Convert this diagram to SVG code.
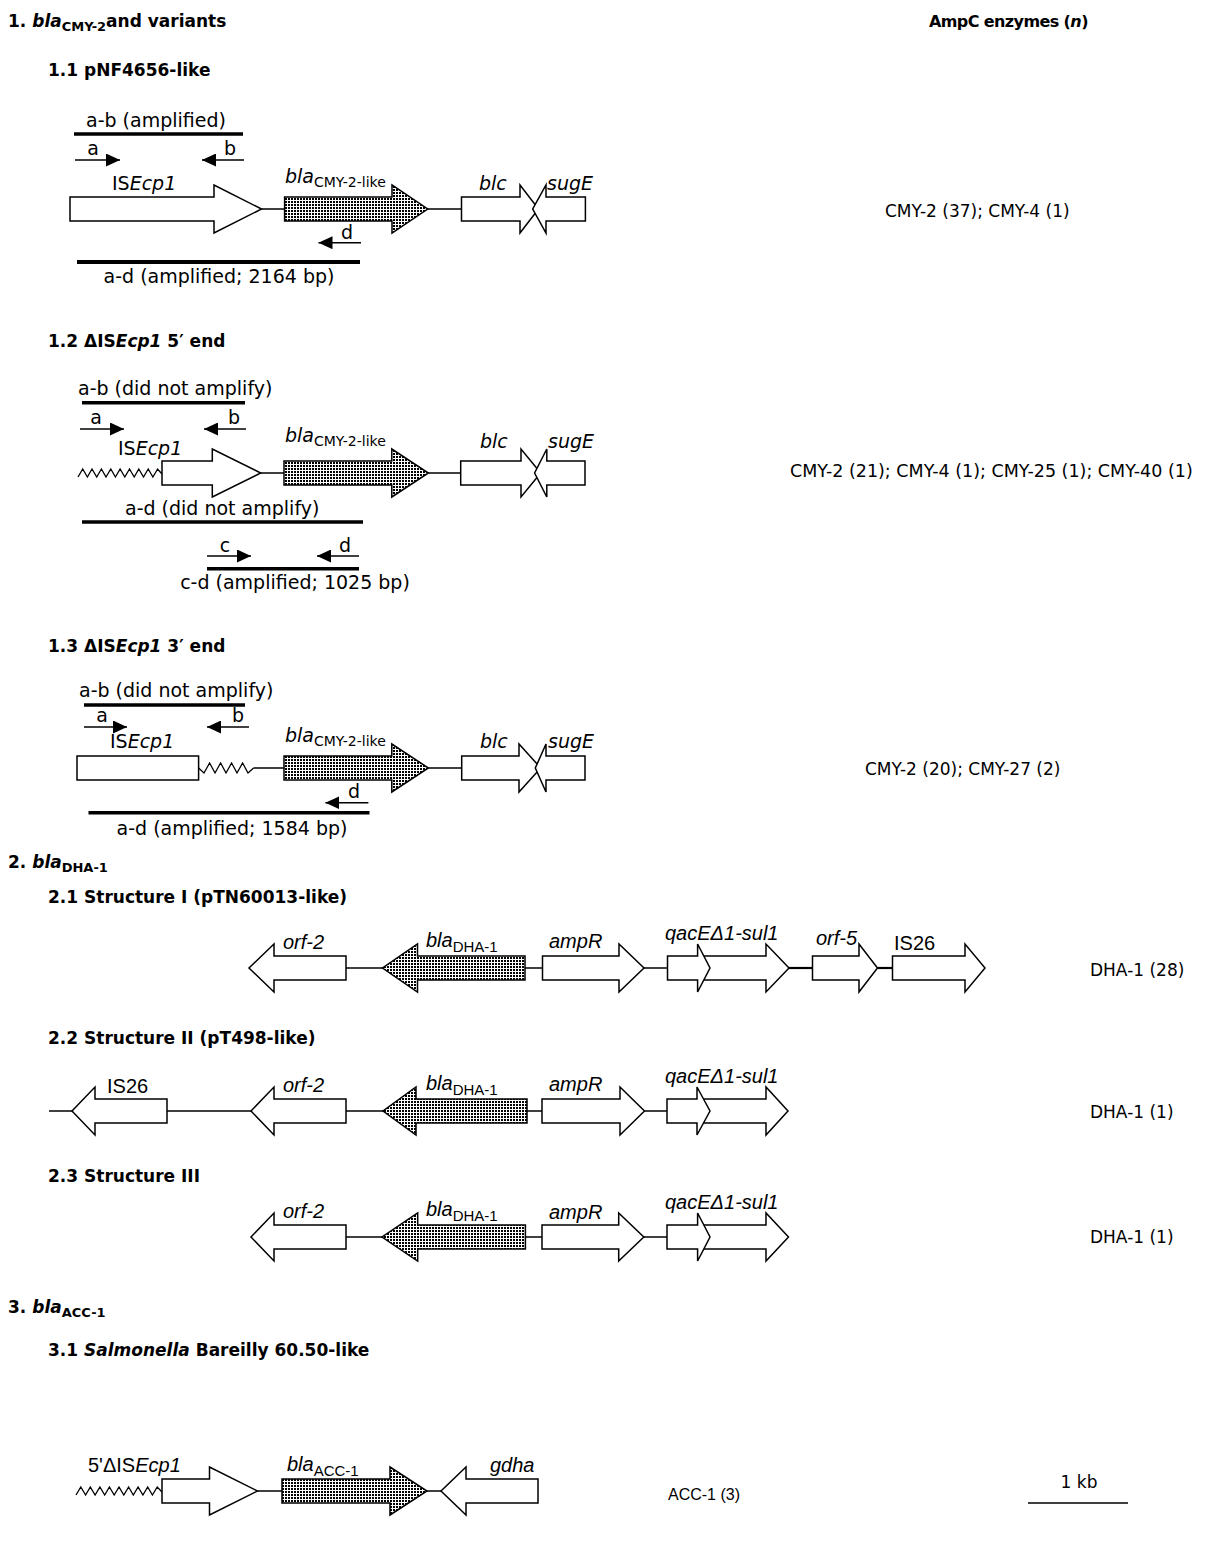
<svg xmlns="http://www.w3.org/2000/svg" width="1207" height="1554" viewBox="0 0 1207 1554">
<defs>
<pattern id="hatch" width="3" height="3" patternUnits="userSpaceOnUse">
<rect width="3" height="3" fill="#fff"/>
<rect width="2" height="2" fill="#000"/>
</pattern>
<marker id="pr" viewBox="0 0 14 13" refX="14" refY="6.5" markerWidth="14" markerHeight="13" markerUnits="userSpaceOnUse" orient="auto">
<path d="M0,0 L14,6.5 L0,13 Z" fill="#000"/>
</marker>
<style>
.t1{font-family:"DejaVu Sans",sans-serif;font-size:19px;fill:#000}
.tb{font-family:"DejaVu Sans",sans-serif;font-size:17px;font-weight:bold;fill:#000}
.tr{font-family:"DejaVu Sans",sans-serif;font-size:17px;fill:#000}
.tl{font-family:"Liberation Sans",sans-serif;font-size:20px;fill:#000}
.i{font-style:italic}
.s1{font-size:14px}
.s2{font-size:15px}
.gene{fill:#fff;stroke:#000;stroke-width:1.5;stroke-linejoin:miter}
.hat{fill:url(#hatch);stroke:#000;stroke-width:1.5}
.ln{stroke:#000;stroke-width:1.5;fill:none}
.ln2{stroke:#000;stroke-width:2.2;fill:none}
.amp{stroke:#000;stroke-width:3.5}
.prm{stroke:#000;stroke-width:1.5;marker-end:url(#pr)}
.zz{fill:none;stroke:#000;stroke-width:1.3}
</style>
</defs>
<rect width="1207" height="1554" fill="#fff"/>

<!-- headings -->
<g id="headings">
<text x="8" y="27" class="tb">1. <tspan class="i">bla</tspan><tspan font-size="13" dy="4">CMY-2</tspan><tspan dy="-4">and variants</tspan></text>
<text x="929" y="27" class="tb" style="font-size:16px;letter-spacing:-0.6px">AmpC enzymes (<tspan class="i">n</tspan>)</text>
<text x="48" y="76" class="tb">1.1 pNF4656-like</text>
<text x="48" y="347" class="tb">1.2 ΔIS<tspan class="i">Ecp1</tspan> 5′ end</text>
<text x="48" y="652" class="tb">1.3 ΔIS<tspan class="i">Ecp1</tspan> 3′ end</text>
<text x="8" y="868" class="tb">2. <tspan class="i">bla</tspan><tspan font-size="13" dy="4">DHA-1</tspan></text>
<text x="48" y="903" class="tb">2.1 Structure I (pTN60013-like)</text>
<text x="48" y="1044" class="tb">2.2 Structure II (pT498-like)</text>
<text x="48" y="1182" class="tb">2.3 Structure III</text>
<text x="8" y="1313" class="tb">3. <tspan class="i">bla</tspan><tspan font-size="13" dy="4">ACC-1</tspan></text>
<text x="48" y="1356" class="tb">3.1 <tspan class="i">Salmonella</tspan> Bareilly 60.50-like</text>
</g>

<!-- right column -->
<g id="enzymes">
<text x="885" y="217" class="tr">CMY-2 (37); CMY-4 (1)</text>
<text x="790" y="477" class="tr" style="font-size:17.5px">CMY-2 (21); CMY-4 (1); CMY-25 (1); CMY-40 (1)</text>
<text x="865" y="775" class="tr">CMY-2 (20); CMY-27 (2)</text>
<text x="1090" y="976" class="tr">DHA-1 (28)</text>
<text x="1090" y="1118" class="tr">DHA-1 (1)</text>
<text x="1090" y="1243" class="tr">DHA-1 (1)</text>
<text x="668" y="1500" class="tl" style="font-size:16px">ACC-1 (3)</text>
</g>

<g id="scalebar">
<text x="1079" y="1488" class="tr" text-anchor="middle">1 kb</text>
<line x1="1028" y1="1503" x2="1128" y2="1503" class="ln"/>
</g>

<!-- connectors -->
<g id="connectors">
<line x1="261.5" y1="209" x2="284.6" y2="209" class="ln"/>
<line x1="427.7" y1="209" x2="461.5" y2="209" class="ln"/>
<line x1="260.7" y1="473" x2="284" y2="473" class="ln"/>
<line x1="428.4" y1="473" x2="460.7" y2="473" class="ln"/>
<line x1="253.6" y1="768" x2="284" y2="768" class="ln"/>
<line x1="428.4" y1="768" x2="461.7" y2="768" class="ln"/>
<line x1="346" y1="968" x2="382.5" y2="968" class="ln"/>
<line x1="525" y1="968" x2="542.5" y2="968" class="ln"/>
<line x1="644" y1="968" x2="667.5" y2="968" class="ln"/>
<line x1="789" y1="968" x2="812.5" y2="968" class="ln2"/>
<line x1="877.5" y1="968" x2="892.5" y2="968" class="ln2"/>
<line x1="49" y1="1111" x2="72" y2="1111" class="ln"/>
<line x1="167" y1="1111" x2="251" y2="1111" class="ln"/>
<line x1="346" y1="1111" x2="383" y2="1111" class="ln"/>
<line x1="527" y1="1111" x2="542" y2="1111" class="ln"/>
<line x1="644.5" y1="1111" x2="667" y2="1111" class="ln"/>
<line x1="346" y1="1237" x2="382" y2="1237" class="ln"/>
<line x1="525.4" y1="1237" x2="542" y2="1237" class="ln"/>
<line x1="643.8" y1="1237" x2="667" y2="1237" class="ln"/>
<line x1="257.5" y1="1491" x2="282" y2="1491" class="ln"/>
<line x1="427" y1="1491" x2="441" y2="1491" class="ln"/>
</g>

<!-- 1.1 -->
<g id="s11-primers">
<text x="86" y="127" class="t1">a-b (amplified)</text>
<line x1="74" y1="134" x2="243" y2="134" class="amp"/>
<line x1="75" y1="160" x2="120" y2="160" class="prm"/>
<text x="93" y="155" class="t1" text-anchor="middle">a</text>
<line x1="244" y1="160" x2="202" y2="160" class="prm"/>
<text x="230" y="155" class="t1" text-anchor="middle">b</text>
<line x1="361" y1="242.7" x2="318.5" y2="242.7" class="prm"/>
<text x="347" y="239" class="t1" text-anchor="middle">d</text>
<line x1="77" y1="262" x2="360" y2="262" class="amp" style="stroke-width:4px"/>
<text x="219" y="283" class="t1" text-anchor="middle">a-d (amplified; 2164 bp)</text>
</g>
<g id="s11-ISEcp1">
<polygon points="70,197 214,197 214,185 261.5,209 214,233 214,221 70,221" class="gene"/>
<text x="112" y="190" class="t1">IS<tspan class="i">Ecp1</tspan></text>
</g>
<g id="s11-bla">
<polygon points="284.6,197 392,197 392,185 427.7,209 392,233 392,221 284.6,221" class="hat"/>
<text x="285" y="183" class="t1"><tspan class="i">bla</tspan><tspan class="s1" dy="4">CMY-2-like</tspan></text>
</g>
<g id="s11-blc">
<polygon points="461.5,197 520,197 520,185 538.5,209 520,233 520,221 461.5,221" class="gene"/>
<text x="479" y="190" class="t1 i">blc</text>
</g>
<g id="s11-sugE">
<polygon points="585.4,197 546,197 546,185 532.7,209 546,233 546,221 585.4,221" class="gene"/>
<text x="547" y="190" class="t1 i">sugE</text>
</g>

<!-- 1.2 -->
<g id="s12-primers">
<text x="78" y="395" class="t1">a-b (did not amplify)</text>
<line x1="82" y1="402.7" x2="245" y2="402.7" class="amp"/>
<line x1="80" y1="429" x2="124" y2="429" class="prm"/>
<text x="96" y="424" class="t1" text-anchor="middle">a</text>
<line x1="246" y1="429" x2="204" y2="429" class="prm"/>
<text x="234" y="424" class="t1" text-anchor="middle">b</text>
<text x="125" y="515" class="t1">a-d (did not amplify)</text>
<line x1="82" y1="522" x2="363" y2="522" class="amp"/>
<line x1="207" y1="556" x2="251" y2="556" class="prm"/>
<text x="225" y="552" class="t1" text-anchor="middle">c</text>
<line x1="359" y1="556" x2="317" y2="556" class="prm"/>
<text x="345" y="552" class="t1" text-anchor="middle">d</text>
<line x1="207" y1="568.7" x2="359" y2="568.7" class="amp"/>
<text x="295" y="589" class="t1" text-anchor="middle">c-d (amplified; 1025 bp)</text>
</g>
<g id="s12-ISEcp1">
<polyline points="78,477 82.7,469 87.4,477 92,469 96.7,477 101.4,469 106,477 110.8,469 115.4,477 120.1,469 124.8,477 129.5,469 134.2,477 138.8,469 143.5,477 148.2,469 152.9,477 157.6,469 162,474" class="zz"/>
<polygon points="162,461 212.3,461 212.3,449 260.7,473 212.3,497 212.3,485 162,485" class="gene"/>
<text x="118" y="455" class="t1">IS<tspan class="i">Ecp1</tspan></text>
</g>
<g id="s12-bla">
<polygon points="284,461 391.8,461 391.8,449 428.4,473 391.8,497 391.8,485 284,485" class="hat"/>
<text x="285" y="442" class="t1"><tspan class="i">bla</tspan><tspan class="s1" dy="4">CMY-2-like</tspan></text>
</g>
<g id="s12-blc">
<polygon points="460.7,461 521,461 521,449 540.7,473 521,497 521,485 460.7,485" class="gene"/>
<text x="480" y="448" class="t1 i">blc</text>
</g>
<g id="s12-sugE">
<polygon points="585,461 546.8,461 546.8,449 534.6,473 546.8,497 546.8,485 585,485" class="gene"/>
<text x="548" y="448" class="t1 i">sugE</text>
</g>

<!-- 1.3 -->
<g id="s13-primers">
<text x="79" y="697" class="t1">a-b (did not amplify)</text>
<line x1="84" y1="705" x2="245" y2="705" class="amp"/>
<line x1="84" y1="727" x2="127" y2="727" class="prm"/>
<text x="102" y="722" class="t1" text-anchor="middle">a</text>
<line x1="249" y1="727" x2="207" y2="727" class="prm"/>
<text x="238" y="722" class="t1" text-anchor="middle">b</text>
<line x1="368.4" y1="802.7" x2="325.4" y2="802.7" class="prm"/>
<text x="354" y="798" class="t1" text-anchor="middle">d</text>
<line x1="88.5" y1="812.7" x2="369.5" y2="812.7" class="amp"/>
<text x="232" y="835" class="t1" text-anchor="middle">a-d (amplified; 1584 bp)</text>
</g>
<g id="s13-ISEcp1">
<rect x="77" y="756" width="121.6" height="24" class="gene"/>
<polyline points="198.6,768 204,773 209.6,763 215,773 220.6,763 226,773 231.6,763 237,773 242.6,763 248,773 253.6,768" class="zz"/>
<text x="110" y="748" class="t1">IS<tspan class="i">Ecp1</tspan></text>
</g>
<g id="s13-bla">
<polygon points="284,756 391.8,756 391.8,744 428.4,768 391.8,792 391.8,780 284,780" class="hat"/>
<text x="285" y="742" class="t1"><tspan class="i">bla</tspan><tspan class="s1" dy="4">CMY-2-like</tspan></text>
</g>
<g id="s13-blc">
<polygon points="461.7,756 519,756 519,744 540.7,768 519,792 519,780 461.7,780" class="gene"/>
<text x="480" y="748" class="t1 i">blc</text>
</g>
<g id="s13-sugE">
<polygon points="585,756 546,756 546,744 535.3,768 546,792 546,780 585,780" class="gene"/>
<text x="548" y="748" class="t1 i">sugE</text>
</g>

<!-- 2.1 -->
<g id="s21-orf2">
<polygon points="346,956 274,956 274,944 249,968 274,992 274,980 346,980" class="gene"/>
<text x="283" y="949" class="tl i">orf-2</text>
</g>
<g id="s21-bla">
<polygon points="525,956 417.5,956 417.5,944 382.5,968 417.5,992 417.5,980 525,980" class="hat"/>
<text x="426" y="947" class="tl"><tspan class="i">bla</tspan><tspan class="s2" dy="5">DHA-1</tspan></text>
</g>
<g id="s21-ampR">
<polygon points="542.5,956 619,956 619,944 644,968 619,992 619,980 542.5,980" class="gene"/>
<text x="549" y="948" class="tl i">ampR</text>
</g>
<g id="s21-qacsul">
<polygon points="697.6,956 766,956 766,944 789,968 766,992 766,980 697.6,980" class="gene"/>
<polygon points="667.5,956 697.6,956 697.6,944 710,968 697.6,992 697.6,980 667.5,980" class="gene"/>
<text x="665" y="940" class="tl i">qacEΔ1-sul1</text>
</g>
<g id="s21-orf5">
<polygon points="812.5,956 859,956 859,944 877.5,968 859,992 859,980 812.5,980" class="gene"/>
<text x="816" y="945" class="tl i">orf-5</text>
</g>
<g id="s21-IS26">
<polygon points="892.5,956 965,956 965,944 985,968 965,992 965,980 892.5,980" class="gene"/>
<text x="894" y="950" class="tl">IS26</text>
</g>

<!-- 2.2 -->
<g id="s22-IS26">
<polygon points="167,1099 95,1099 95,1087 72,1111 95,1135 95,1123 167,1123" class="gene"/>
<text x="107" y="1093" class="tl">IS26</text>
</g>
<g id="s22-orf2">
<polygon points="346,1099 274,1099 274,1087 251,1111 274,1135 274,1123 346,1123" class="gene"/>
<text x="283" y="1092" class="tl i">orf-2</text>
</g>
<g id="s22-bla">
<polygon points="527,1099 416,1099 416,1087 383,1111 416,1135 416,1123 527,1123" class="hat"/>
<text x="426" y="1090" class="tl"><tspan class="i">bla</tspan><tspan class="s2" dy="5">DHA-1</tspan></text>
</g>
<g id="s22-ampR">
<polygon points="542,1099 620,1099 620,1087 644.5,1111 620,1135 620,1123 542,1123" class="gene"/>
<text x="549" y="1091" class="tl i">ampR</text>
</g>
<g id="s22-qacsul">
<polygon points="697,1099 766,1099 766,1087 788,1111 766,1135 766,1123 697,1123" class="gene"/>
<polygon points="667,1099 697,1099 697,1087 710,1111 697,1135 697,1123 667,1123" class="gene"/>
<text x="665" y="1083" class="tl i">qacEΔ1-sul1</text>
</g>

<!-- 2.3 -->
<g id="s23-orf2">
<polygon points="346,1225 274,1225 274,1213 251,1237 274,1261 274,1249 346,1249" class="gene"/>
<text x="283" y="1218" class="tl i">orf-2</text>
</g>
<g id="s23-bla">
<polygon points="525.4,1225 417.7,1225 417.7,1213 382,1237 417.7,1261 417.7,1249 525.4,1249" class="hat"/>
<text x="426" y="1216" class="tl"><tspan class="i">bla</tspan><tspan class="s2" dy="5">DHA-1</tspan></text>
</g>
<g id="s23-ampR">
<polygon points="542,1225 618.7,1225 618.7,1213 643.8,1237 618.7,1261 618.7,1249 542,1249" class="gene"/>
<text x="549" y="1219" class="tl i">ampR</text>
</g>
<g id="s23-qacsul">
<polygon points="697.6,1225 766,1225 766,1213 788.5,1237 766,1261 766,1249 697.6,1249" class="gene"/>
<polygon points="667,1225 697.6,1225 697.6,1213 710,1237 697.6,1261 697.6,1249 667,1249" class="gene"/>
<text x="665" y="1209" class="tl i">qacEΔ1-sul1</text>
</g>

<!-- 3.1 -->
<g id="s31-ISEcp1">
<polyline points="76,1495 80.8,1487 85.6,1495 90.3,1487 95.1,1495 99.9,1487 104.7,1495 109.4,1487 114.2,1495 119,1487 123.8,1495 128.6,1487 133.3,1495 138.1,1487 142.9,1495 147.7,1487 152.4,1495 157.2,1487 162,1492" class="zz"/>
<polygon points="162,1479 209.5,1479 209.5,1467 257.5,1491 209.5,1515 209.5,1503 162,1503" class="gene"/>
<text x="88" y="1472" class="tl">5'ΔIS<tspan class="i">Ecp1</tspan></text>
</g>
<g id="s31-bla">
<polygon points="282,1479 390,1479 390,1467 427,1491 390,1515 390,1503 282,1503" class="hat"/>
<text x="287" y="1471" class="tl"><tspan class="i">bla</tspan><tspan class="s2" dy="5">ACC-1</tspan></text>
</g>
<g id="s31-gdha">
<polygon points="538,1479 466,1479 466,1467 441,1491 466,1515 466,1503 538,1503" class="gene"/>
<text x="490" y="1472" class="tl i">gdha</text>
</g>
</svg>
